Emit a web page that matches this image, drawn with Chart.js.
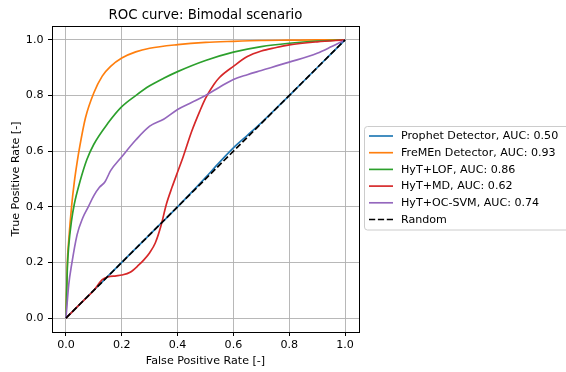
<!DOCTYPE html>
<html>
<head>
<meta charset="utf-8">
<script src="https://cdn.jsdelivr.net/npm/chart.js@4.4.0/dist/chart.umd.min.js"></script>
<style>
  body { margin: 0; background: #fff; }
</style>
</head>
<body>
<canvas id="rocChart" width="566" height="372"></canvas>
<script>
const tickValues = [0, 0.2, 0.4, 0.6, 0.8, 1.0];

const seriesLabels = [
  'Prophet Detector, AUC: 0.50',
  'FreMEn Detector, AUC: 0.93',
  'HyT+LOF, AUC: 0.86',
  'HyT+MD, AUC: 0.62',
  'HyT+OC-SVM, AUC: 0.74',
  'Random'
];
const seriesColors = ['#1f77b4', '#ff7f0e', '#2ca02c', '#d62728', '#9467bd', '#000000'];

const prophetFpr = [0, 0.1, 0.2, 0.3, 0.4, 0.45, 0.5, 0.55, 0.6, 0.65, 0.7, 0.8, 0.9, 1];
const prophetTpr = [0, 0.1, 0.2, 0.3, 0.4, 0.452, 0.505, 0.56, 0.612, 0.657, 0.702, 0.8, 0.9, 1];

const fremenFpr = [0, 0.005, 0.01, 0.02, 0.03, 0.04, 0.05, 0.07, 0.1, 0.13, 0.16, 0.2, 0.25, 0.3, 0.4, 0.5, 0.6, 0.7, 0.8, 0.9, 1];
const fremenTpr = [0, 0.2, 0.28, 0.4, 0.49, 0.56, 0.62, 0.72, 0.81, 0.87, 0.905, 0.935, 0.957, 0.97, 0.983, 0.991, 0.995, 0.998, 0.999, 1, 1];

const lofFpr = [0, 0.005, 0.01, 0.02, 0.03, 0.05, 0.075, 0.1, 0.15, 0.2, 0.25, 0.3, 0.35, 0.4, 0.5, 0.6, 0.7, 0.8, 0.9, 1];
const lofTpr = [0, 0.18, 0.26, 0.35, 0.41, 0.49, 0.57, 0.625, 0.7, 0.76, 0.8, 0.835, 0.862, 0.886, 0.926, 0.956, 0.976, 0.988, 0.996, 1];

const mdFpr = [0, 0.05, 0.1, 0.13, 0.15, 0.18, 0.2, 0.23, 0.26, 0.28, 0.3, 0.32, 0.34, 0.36, 0.38, 0.4, 0.42, 0.45, 0.48, 0.5, 0.53, 0.55, 0.6, 0.65, 0.7, 0.75, 0.8, 0.9, 1];
const mdTpr = [0, 0.05, 0.1, 0.138, 0.148, 0.152, 0.155, 0.165, 0.19, 0.21, 0.235, 0.27, 0.33, 0.41, 0.47, 0.525, 0.58, 0.67, 0.745, 0.79, 0.84, 0.865, 0.905, 0.94, 0.96, 0.972, 0.982, 0.993, 1];

const ocsvmFpr = [0, 0.01, 0.02, 0.04, 0.06, 0.08, 0.1, 0.12, 0.14, 0.16, 0.2, 0.25, 0.3, 0.35, 0.4, 0.45, 0.5, 0.55, 0.6, 0.65, 0.7, 0.8, 0.9, 0.95, 1];
const ocsvmTpr = [0, 0.12, 0.19, 0.3, 0.36, 0.4, 0.44, 0.47, 0.49, 0.53, 0.58, 0.64, 0.69, 0.715, 0.75, 0.775, 0.8, 0.83, 0.858, 0.875, 0.89, 0.92, 0.952, 0.975, 1];

const randomFpr = [0, 1];
const randomTpr = [0, 1];

const allFpr = [prophetFpr, fremenFpr, lofFpr, mdFpr, ocsvmFpr, randomFpr];
const allTpr = [prophetTpr, fremenTpr, lofTpr, mdTpr, ocsvmTpr, randomTpr];

const FONT = 'DejaVu Sans';
const FS = 11.1;

const datasets = seriesLabels.map((label, i) => ({
  label: label,
  data: allFpr[i].map((x, j) => ({ x: x, y: allTpr[i][j] })),
  showLine: true,
  borderColor: seriesColors[i],
  backgroundColor: seriesColors[i],
  borderWidth: 1.67,
  borderDash: i === 5 ? [6.2, 2.7] : [],
  pointRadius: 0,
  fill: false,
  cubicInterpolationMode: 'monotone',
  order: seriesLabels.length - i
}));

// title, frame and boxed legend like matplotlib
const extras = {
  id: 'extras',
  afterDatasetsDraw(chart) {
    const ctx = chart.ctx;
    const a = chart.chartArea;
    ctx.save();
    ctx.strokeStyle = '#000';
    ctx.lineWidth = 1;
    ctx.strokeRect(Math.round(a.left) + 0.5, Math.round(a.top) + 0.5,
      Math.round(a.right - a.left), Math.round(a.bottom - a.top));

    ctx.fillStyle = '#000';
    ctx.font = '13.3px "' + FONT + '"';
    ctx.textAlign = 'center';
    ctx.textBaseline = 'alphabetic';
    ctx.fillText('ROC curve: Bimodal scenario', (a.left + a.right) / 2, 19);

    // legend
    ctx.beginPath();
    ctx.roundRect(364.5, 126.5, 240, 103.5, 3);
    ctx.fillStyle = 'rgba(255,255,255,0.8)';
    ctx.fill();
    ctx.strokeStyle = '#cccccc';
    ctx.lineWidth = 1;
    ctx.stroke();

    ctx.font = FS + 'px "' + FONT + '"';
    ctx.textAlign = 'left';
    ctx.textBaseline = 'middle';
    chart.data.datasets.forEach((ds, i) => {
      const y = 136 + i * 16.7;
      ctx.beginPath();
      ctx.setLineDash(ds.borderDash);
      ctx.strokeStyle = ds.borderColor;
      ctx.lineWidth = 1.67;
      ctx.moveTo(369, y);
      ctx.lineTo(393, y);
      ctx.stroke();
      ctx.setLineDash([]);
      ctx.fillStyle = '#000';
      ctx.fillText(ds.label, 401, y + 0.5);
    });
    ctx.restore();
  }
};

const axisCommon = {
  type: 'linear',
  min: -0.05,
  max: 1.05,
  afterBuildTicks: (scale) => { scale.ticks = tickValues.map(v => ({ value: v })); },
  grid: {
    color: '#b0b0b0',
    lineWidth: 0.9,
    drawTicks: true,
    tickLength: 4,
    tickColor: '#000',
    tickWidth: 1
  },
  border: { display: false },
  ticks: {
    color: '#000',
    font: { family: FONT, size: FS },
    callback: (v) => Number(v).toFixed(1)
  }
};

new Chart(document.getElementById('rocChart'), {
  type: 'scatter',
  data: { datasets: datasets },
  options: {
    responsive: false,
    animation: false,
    layout: { padding: { top: 26, right: 207, left: 0, bottom: 0 } },
    plugins: {
      legend: { display: false },
      tooltip: { enabled: false }
    },
    scales: {
      x: Object.assign({}, axisCommon, {
        afterFit: (s) => { s.height = 40; },
        ticks: Object.assign({}, axisCommon.ticks, { padding: 2, maxRotation: 0 }),
        title: {
          display: true,
          text: 'False Positive Rate [-]',
          color: '#000',
          font: { family: FONT, size: FS },
          padding: { top: 0, bottom: 4 }
        }
      }),
      y: Object.assign({}, axisCommon, {
        afterFit: (s) => { s.width = 52; },
        ticks: Object.assign({}, axisCommon.ticks, { padding: 4.5 }),
        title: {
          display: true,
          text: 'True Positive Rate [-]',
          color: '#000',
          font: { family: FONT, size: FS },
          padding: { top: 9.5, bottom: 0 }
        }
      })
    }
  },
  plugins: [extras]
});
</script>
</body>
</html>
